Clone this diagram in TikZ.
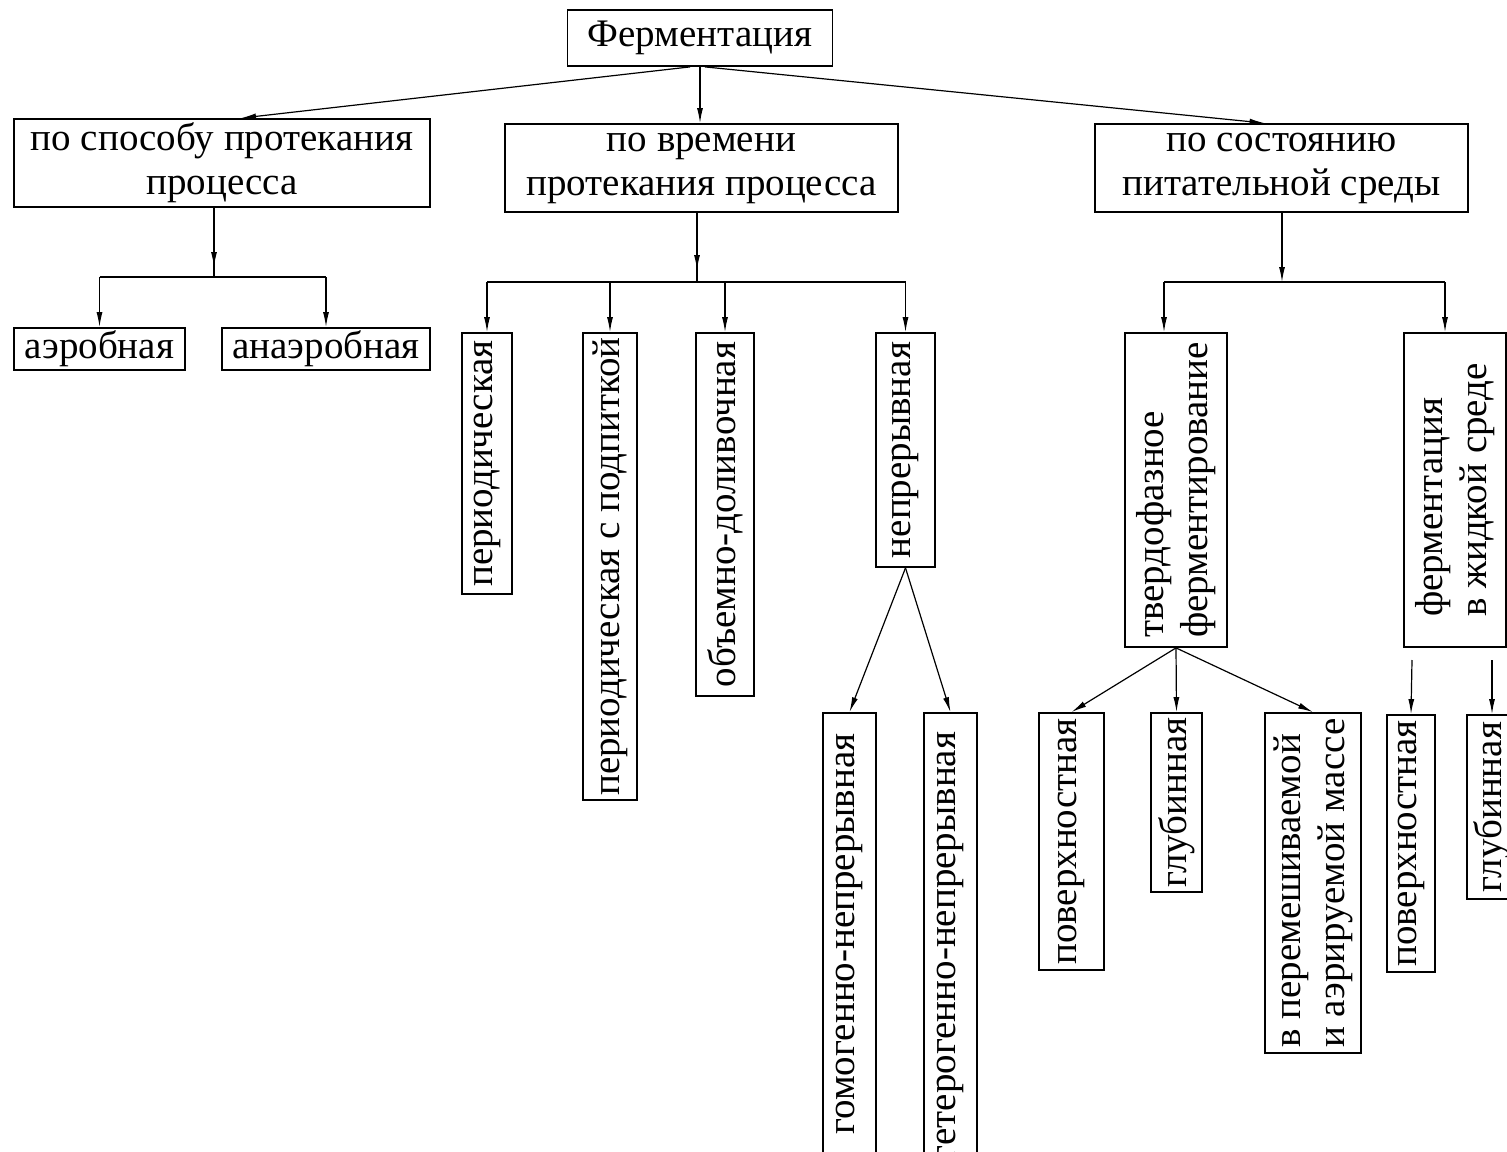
\documentclass[tikz,border=0pt]{standalone}
\usepackage{fontspec}
\setmainfont{Liberation Serif}
\usetikzlibrary{arrows.meta}

\begin{document}
\begin{tikzpicture}[x=1pt, y=-1pt, font=\fontsize{39}{44}\selectfont,
  box/.style={draw, line width=1.8pt, inner sep=2pt, align=center},
  vbox/.style={box, rotate=90, align=left},
  arr/.style={line width=1.2pt, -{Latex[length=15pt, width=6pt]}}]
\useasboundingbox (0,0) rectangle (1507,1151);
\node[box, minimum width=265pt, minimum height=56pt](ferm) at (700,38) {Ферментация};
\node[box, minimum width=416pt, minimum height=88pt](sposob) at (222,163) {по способу протекания\\процесса};
\node[box, minimum width=393pt, minimum height=88pt](vremya) at (701.5,168) {по времени\\протекания процесса};
\node[box, minimum width=373pt, minimum height=88pt](sostoy) at (1281.5,168) {по состоянию\\питательной среды};
\node[box, minimum width=171pt, minimum height=42pt](aerob) at (99.5,349) {аэробная};
\node[box, minimum width=208pt, minimum height=42pt](anaerob) at (326,349) {анаэробная};
\node[vbox, minimum width=261pt, minimum height=50pt](period) at (487,463.5) {периодическая};
\node[vbox, minimum width=467pt, minimum height=54pt](podpit) at (610,566.5) {периодическая с подпиткой};
\node[vbox, minimum width=363pt, minimum height=58pt](oblem) at (725,514.5) {объемно-доливочная};
\node[vbox, minimum width=234pt, minimum height=59pt](nepr) at (905.5,450) {непрерывная};
\node[vbox, minimum width=442pt, minimum height=53pt](gomo) at (849.5,934) {гомогенно-непрерывная};
\node[vbox, minimum width=467pt, minimum height=53pt](getero) at (950.5,946.5) {гетерогенно-непрерывная};
\node[vbox, minimum width=314pt, minimum height=102pt](tverd) at (1176,490) {твердофазное\\ферментирование};
\node[vbox, minimum width=314pt, minimum height=102pt](zhidk) at (1455,490) {ферментация\\в жидкой среде};
\node[vbox, minimum width=257pt, minimum height=65pt](poverh1) at (1071.5,841.5) {поверхностная};
\node[vbox, minimum width=179pt, minimum height=51pt](glub1) at (1176.5,802.5) {глубинная};
\node[vbox, minimum width=340pt, minimum height=96pt](peremesh) at (1313,883) {в перемешиваемой\\и аэрируемой массе};
\node[vbox, minimum width=257pt, minimum height=48pt](poverh2) at (1411,843.5) {поверхностная};
\node[vbox, minimum width=184pt, minimum height=50pt](glub2) at (1492,807) {глубинная};
\coordinate (sj) at (214,277);
\coordinate (vj) at (697,282);
\coordinate (tj) at (1282,282);
\coordinate (tl) at (1164,282);
\coordinate (tr) at (1445,282);
\coordinate (zl) at (1412,660);
\coordinate (zr) at (1492,660);
\draw[arr] ([xshift=-10pt]ferm.south) -- ([xshift=19pt]sposob.north);
\draw[arr] (ferm.south) -- (ferm.south |- vremya.north);
\draw[arr] ([xshift=5pt]ferm.south) -- ([xshift=-17pt]sostoy.north);
\draw[line width=1.2pt] (sposob.south -| sj) -- (sj);
\draw[arr] (sposob.south -| sj) -- ([yshift=10pt]sj);
\draw[line width=1.2pt] (sj -| aerob.north) -- (sj -| anaerob.north);
\draw[arr] (sj -| aerob.north) -- (aerob.north);
\draw[arr] (sj -| anaerob.north) -- (anaerob.north);
\draw[line width=1.2pt] (vremya.south -| vj) -- (vj);
\draw[arr] (vremya.south -| vj) -- ([yshift=12pt]vj);
\draw[line width=1.2pt] (vj -| period.east) -- (vj -| nepr.east);
\foreach \n in {period, podpit, oblem, nepr}
  \draw[arr] (vj -| \n.east) -- (\n.east);
\draw[arr] (sostoy.south -| tj) -- (tj);
\draw[line width=1.2pt] (tl) -- (tr);
\draw[arr] (tl) -- (tl |- tverd.east);
\draw[arr] (tr) -- (tr |- zhidk.east);
\draw[arr] (nepr.west) -- (gomo.east);
\draw[arr] (nepr.west) -- (getero.east);
\draw[arr] (tverd.west) -- (poverh1.east);
\draw[arr] (tverd.west) -- (glub1.east);
\draw[arr] (tverd.west) -- (peremesh.east);
\draw[arr] (zl) -- (poverh2.east);
\draw[arr] (zr) -- (glub2.east);
\end{tikzpicture}
\end{document}
